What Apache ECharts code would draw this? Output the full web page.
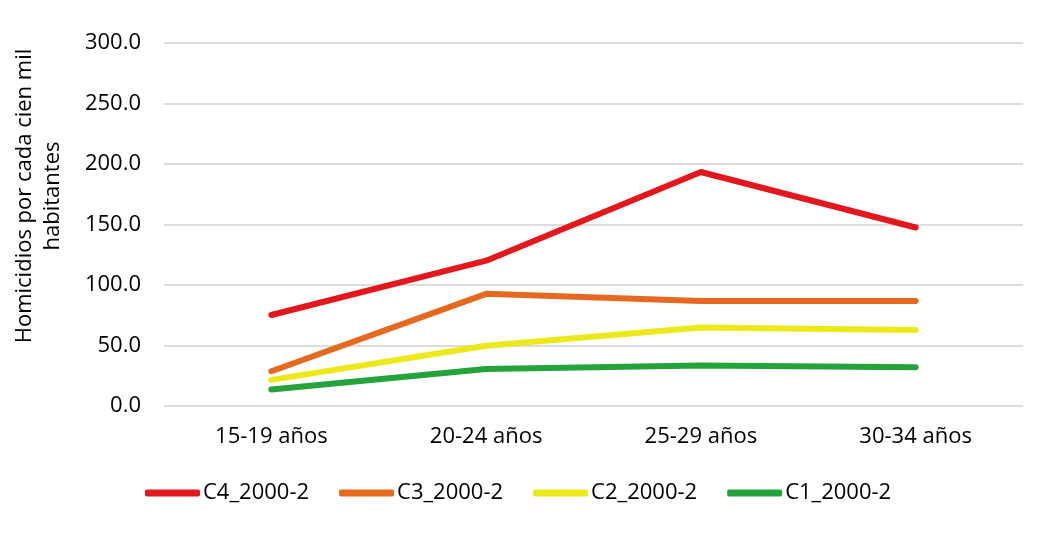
<!DOCTYPE html>
<html>
<head>
<meta charset="utf-8">
<script src="https://cdn.jsdelivr.net/npm/echarts@6/dist/echarts.min.js"></script>
<style>html,body{margin:0;padding:0;background:#fff;}#c{width:1046px;height:534px;}</style>
</head>
<body>
<div id="c"></div>
<script>
var categories = ['15-19 años', '20-24 años', '25-29 años', '30-34 años'];
var seriesNames = ['C4_2000-2', 'C3_2000-2', 'C2_2000-2', 'C1_2000-2'];
var c4 = [75.2, 120.1, 193.4, 147.5];
var c3 = [28.7, 92.7, 86.7, 86.7];
var c2 = [21.6, 49.8, 64.8, 62.9];
var c1 = [13.7, 30.6, 33.4, 32.0];
var colors = ['#E3171C', '#E5691F', '#EDE81A', '#23A33A'];
var yTicks = {min: 0, max: 300, interval: 50};
var yTitle = 'Homicidios por cada cien mil\nhabitantes';

var FONT = 'Open Sans';
var data = [c4, c3, c2, c1];
var chart = echarts.init(document.getElementById('c'));
chart.setOption({
  animation: false,
  textStyle: {fontFamily: FONT},
  grid: {left: 164, right: 23, top: 43, bottom: 128},
  legend: {
    left: 140, top: 477, itemWidth: 55, itemHeight: 7, itemGap: 30,
    icon: 'roundRect',
    textStyle: {fontFamily: FONT, fontSize: 22, color: '#000', padding: [0,0,0,-2]},
    data: seriesNames
  },
  graphic: [{
    type: 'text', x: 39, y: 196, rotation: Math.PI / 2,
    style: {text: yTitle, fontFamily: FONT, fontSize: 22, fill: '#000', align: 'center', verticalAlign: 'middle', lineHeight: 28}
  }],
  xAxis: {
    type: 'category', data: categories, boundaryGap: true,
    axisLine: {show: false}, axisTick: {show: false},
    axisLabel: {fontFamily: FONT, fontSize: 22, color: '#000', margin: 20}
  },
  yAxis: {
    type: 'value', min: yTicks.min, max: yTicks.max, interval: yTicks.interval,
    axisLine: {show: false}, axisTick: {show: false},
    axisLabel: {fontFamily: FONT, fontSize: 22, color: '#000', margin: 23, formatter: function (v) { return v.toFixed(1); }},
    splitLine: {lineStyle: {color: '#D0D0D0', width: 1.5}}
  },
  series: seriesNames.map(function (n, i) {
    return {
      name: n, type: 'line', data: data[i], symbol: 'none',
      lineStyle: {color: colors[i], width: 6, cap: 'round', join: 'round'},
      itemStyle: {color: colors[i]},
      z: 10 - i
    };
  })
});
</script>
</body>
</html>
